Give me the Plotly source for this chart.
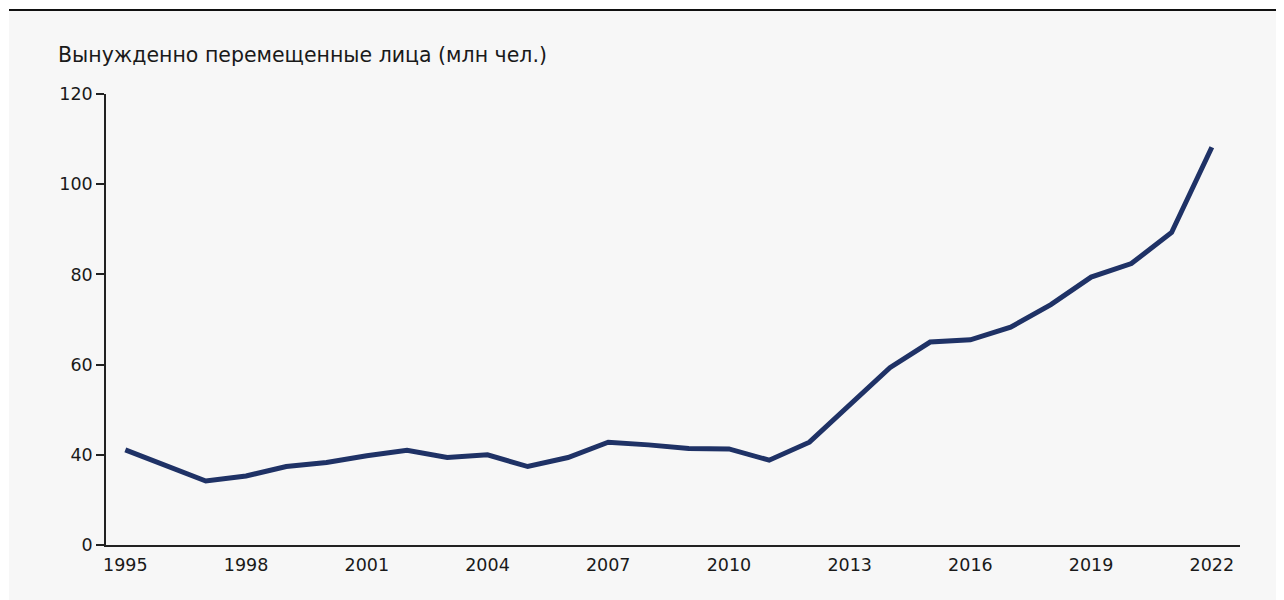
import plotly.graph_objects as go

years = list(range(1995, 2023))
displaced_mln = [41.1, 37.6, 34.2, 35.3, 37.4, 38.3, 39.8, 41.0, 39.4, 40.0,
                 37.4, 39.4, 42.8, 42.2, 41.4, 41.3, 38.8, 42.8, 51.1, 59.3,
                 65.0, 65.5, 68.3, 73.3, 79.4, 82.4, 89.3, 108.2]
x_tick_vals = [1995, 1998, 2001, 2004, 2007, 2010, 2013, 2016, 2019, 2022]
y_tick_vals = [20, 40, 60, 80, 100, 120]
y_tick_text = ["0", "40", "60", "80", "100", "120"]
title_text = "Вынужденно перемещенные лица (млн чел.)"

FONT = "DejaVu Sans"
TXT = "#1a1a1a"
OFF = 8  # page body margin

fig = go.Figure()
fig.add_trace(go.Scatter(
    x=years, y=displaced_mln, mode="lines",
    line=dict(color="#1f3266", width=5),
    hoverinfo="x+y", showlegend=False,
))

W, H = 1284, 600
L, R, T, B = 106 - OFF, 44 + OFF, 94 - OFF, 55 + OFF
pw, ph = W - L - R, H - T - B

def px(xp):
    return (xp - OFF - L) / pw

def py(yp):
    return (H - B - (yp - OFF)) / ph

fig.update_layout(
    width=W, height=H,
    margin=dict(l=L, r=R, t=T, b=B),
    paper_bgcolor="white",
    plot_bgcolor="rgba(0,0,0,0)",
    font=dict(family=FONT, size=17, color=TXT),
    xaxis=dict(
        range=[1994.52, 2022.7],
        tickmode="array", tickvals=x_tick_vals,
        showgrid=False, zeroline=False,
        showline=True, linecolor="#222", linewidth=1.5,
        ticks="", tickfont=dict(size=17.5, color=TXT),
        ticklabelstandoff=3,
    ),
    yaxis=dict(
        range=[20, 120],
        tickmode="array", tickvals=y_tick_vals, ticktext=y_tick_text,
        showgrid=False, zeroline=False,
        showline=True, linecolor="#222", linewidth=1.5,
        ticks="outside", ticklen=8, tickwidth=1.5, tickcolor="#222",
        tickfont=dict(size=17.5, color=TXT),
    ),
    shapes=[
        dict(type="rect", xref="paper", yref="paper",
             x0=px(9), x1=px(1300), y0=py(620), y1=py(10),
             fillcolor="#f7f7f7", line=dict(width=0), layer="below"),
        dict(type="line", xref="paper", yref="paper",
             x0=px(9), x1=px(1300), y0=py(10), y1=py(10),
             line=dict(color="#111", width=2)),
    ],
    annotations=[
        dict(text=title_text, xref="paper", yref="paper",
             x=px(56), y=py(55), xanchor="left", yanchor="middle",
             showarrow=False, font=dict(family=FONT, size=20.5, color=TXT)),
    ],
)

fig.write_html("out.html")
